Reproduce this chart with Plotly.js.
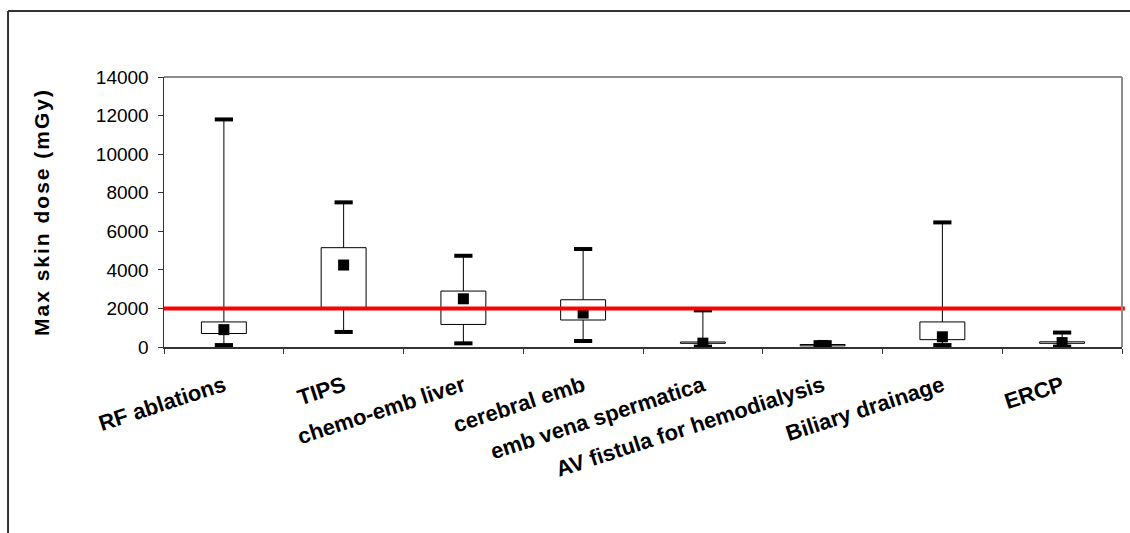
<!DOCTYPE html>
<html>
<head>
<meta charset="utf-8">
<script src="https://cdn.plot.ly/plotly-3.0.1.min.js"></script>
<style>
  html, body { margin: 0; padding: 0; background: #fff; }
  #chart { width: 1130px; height: 533px; }
  .ytitle { letter-spacing: 2px; }
</style>
</head>
<body>
<div id="chart"></div>
<script>
const categories = ["RF ablations", "TIPS", "chemo-emb liver", "cerebral emb", "emb vena spermatica", "AV fistula for hemodialysis", "Biliary drainage", "ERCP"];
const minVals    = [100,   780,  190,  310,  20,   10,  100,  20];
const q1Vals     = [700,   2050, 1170, 1400, 190,  60,  380,  190];
const centerVals = [900,   4250, 2500, 1760, 200,  80,  530,  230];
const q3Vals     = [1300,  5150, 2900, 2450, 260,  130, 1300, 270];
const maxVals    = [11800, 7500, 4730, 5080, 1900, 250, 6460, 750];
const threshold = 2000;
const yTicks = [0, 2000, 4000, 6000, 8000, 10000, 12000, 14000];

// whisker segments (max->q3 and q1->min), separated by nulls
const wx = [], wy = [];
categories.forEach((c, i) => {
  wx.push(c, c, null, c, c, null);
  wy.push(maxVals[i], q3Vals[i], null, q1Vals[i], minVals[i], null);
});

const traces = [
  {
    type: 'bar', x: categories, y: q3Vals.map((v, i) => v - q1Vals[i]), base: q1Vals,
    width: 0.375, marker: { color: '#ffffff', line: { color: '#000000', width: 1 } },
    hoverinfo: 'skip', showlegend: false
  },
  {
    type: 'scatter', mode: 'lines', x: wx, y: wy, connectgaps: false,
    line: { color: '#000000', width: 1 }, hoverinfo: 'skip', showlegend: false
  },
  {
    type: 'scatter', mode: 'markers', x: categories.concat(categories), y: maxVals.concat(minVals),
    marker: { symbol: 'line-ew', size: 13, color: '#000', line: { color: '#000', width: 4 } },
    hoverinfo: 'skip', showlegend: false
  },
  {
    type: 'scatter', mode: 'markers', x: categories, y: centerVals,
    marker: { symbol: 'square', size: 11, color: '#000', line: { width: 0 } },
    hoverinfo: 'skip', showlegend: false
  }
];

const layout = {
  width: 1130, height: 533,
  margin: { l: 164, r: 8, t: 77, b: 186, pad: 0 },
  paper_bgcolor: '#ffffff', plot_bgcolor: '#ffffff',
  font: { family: 'Liberation Sans, Arial, sans-serif', color: '#000' },
  bargap: 0,
  xaxis: {
    type: 'category', range: [-0.5, 7.5], fixedrange: true,
    showgrid: false, zeroline: false,
    showline: true, linecolor: '#333333', linewidth: 1.5,
    ticks: 'outside', tickson: 'boundaries', ticklen: 5, tickcolor: '#333333', tickwidth: 1,
    tickangle: -18, ticklabelstandoff: 16,
    tickfont: { family: 'Liberation Sans, Arial, sans-serif', size: 22, weight: 700, color: '#000' }
  },
  yaxis: {
    range: [0, 14000], tickvals: yTicks, ticktext: yTicks.map(String), fixedrange: true,
    showgrid: false, zeroline: false,
    showline: true, linecolor: '#333333', linewidth: 1.5,
    ticks: 'outside', ticklen: 5, tickcolor: '#333333', tickwidth: 1,
    ticklabelstandoff: 5,
    tickfont: { family: 'Liberation Sans, Arial, sans-serif', size: 19, color: '#000' },
    title: { text: 'Max skin dose (mGy)', standoff: 40,
             font: { family: 'Liberation Sans, Arial, sans-serif', size: 21, weight: 700, color: '#000' } }
  },
  shapes: [
    { type: 'line', xref: 'paper', yref: 'y', x0: 0, x1: 1.003, y0: threshold, y1: threshold,
      line: { color: '#ff0000', width: 4 }, layer: 'above' },
    { type: 'line', xref: 'paper', yref: 'paper', x0: 0, x1: 1, y0: 1, y1: 1,
      line: { color: '#8c8c8c', width: 2 }, layer: 'above' },
    { type: 'line', xref: 'paper', yref: 'paper', x0: 1, x1: 1, y0: 0, y1: 1,
      line: { color: '#8c8c8c', width: 2 }, layer: 'above' },
    { type: 'line', xref: 'paper', yref: 'paper', x0: -0.1628, x1: 1.02, y0: 1.244, y1: 1.244,
      line: { color: '#333333', width: 2 }, layer: 'above' },
    { type: 'line', xref: 'paper', yref: 'paper', x0: -0.1628, x1: -0.1628, y0: 1.244, y1: -0.72,
      line: { color: '#333333', width: 2 }, layer: 'above' }
  ]
};

Plotly.newPlot('chart', traces, layout, { staticPlot: true, displayModeBar: false });
</script>
</body>
</html>
